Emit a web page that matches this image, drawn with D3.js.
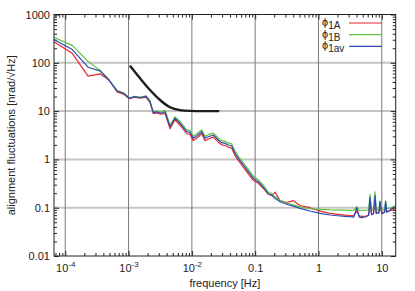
<!DOCTYPE html>
<html>
<head>
<meta charset="utf-8">
<script src="https://cdn.jsdelivr.net/npm/d3@7"></script>
<style>
  body { margin: 0; background: #fff; }
  svg { display: block; font-family: "Liberation Sans", Arial, sans-serif; }
</style>
</head>
<body>
<svg id="chart" width="415" height="291"></svg>
<script>
// frequency bins [Hz], shared by the three spectra
const freq = [
  6.6e-5, 1.29e-4, 2.29e-4, 3.54e-4, 4.9e-4, 6.6e-4, 8.3e-4, 1.03e-3, 1.26e-3, 1.52e-3,
  1.88e-3, 2.18e-3, 2.46e-3, 2.84e-3, 3.22e-3, 3.77e-3, 4.52e-3, 5.42e-3, 6.5e-3, 8.3e-3,
  9.35e-3, 1.05e-2, 1.19e-2, 1.43e-2, 1.61e-2, 1.82e-2, 2.18e-2, 2.62e-2, 2.96e-2, 3.34e-2,
  3.77e-2, 4.26e-2, 4.8e-2, 5.42e-2, 6.5e-2, 7.8e-2, 9.35e-2, 0.112, 0.135, 0.161,
  0.182, 0.206, 0.247, 0.315, 0.4, 0.51, 0.734, 1.06, 1.52, 2.19,
  2.6, 3.15, 3.6, 4.02, 4.4, 4.87, 5.64, 6.2, 6.52, 6.9,
  7.4, 7.82, 8.2, 8.57, 9.0, 9.38, 10.0, 10.5, 11.1, 11.5,
  12.0, 14.0, 15.2, 16.6
]

// phi_1A (red)
const phi1A = [
  274, 157, 53, 59, 44, 25, 22.5, 18, 19.5, 18.5,
  19.5, 15.2, 8.9, 9.2, 8.6, 9.0, 4.3, 6.6, 5.1, 3.4,
  3.3, 2.45, 2.75, 3.4, 2.45, 2.65, 2.9, 2.27, 2.0, 1.94,
  1.8, 1.7, 1.2, 0.95, 0.69, 0.5, 0.37, 0.32, 0.25, 0.19,
  0.18, 0.21, 0.14, 0.128, 0.14, 0.111, 0.1, 0.085, 0.076, 0.072,
  0.07, 0.069, 0.068, 0.085, 0.068, 0.066, 0.067, 0.07, 0.12, 0.074,
  0.076, 0.13, 0.077, 0.078, 0.079, 0.11, 0.078, 0.08, 0.082, 0.11,
  0.083, 0.088, 0.092, 0.095
]

// phi_1B (green)
const phi1B = [
  337, 230, 107, 70, 45, 26.5, 24, 18.8, 20.3, 19.4,
  20.8, 16.2, 9.7, 10, 9.5, 10.4, 5.1, 7.6, 6.1, 4.1,
  4.0, 3.0, 3.35, 4.1, 3.0, 3.25, 3.5, 2.78, 2.45, 2.37,
  2.2, 2.08, 1.48, 1.16, 0.85, 0.62, 0.45, 0.38, 0.29, 0.21,
  0.196, 0.168, 0.14, 0.124, 0.114, 0.104, 0.095, 0.092, 0.09, 0.089,
  0.089, 0.088, 0.088, 0.105, 0.088, 0.088, 0.089, 0.09, 0.19, 0.09,
  0.09, 0.214, 0.09, 0.09, 0.09, 0.135, 0.09, 0.09, 0.092, 0.135,
  0.095, 0.1, 0.105, 0.11
]

// phi_1av (blue)
const phi1av = [
  303, 188, 81, 68, 44, 26, 23.4, 18.4, 19.9, 18.9,
  20.2, 15.7, 9.3, 9.6, 9.0, 9.7, 4.75, 7.1, 5.6, 3.75,
  3.64, 2.73, 3.05, 3.75, 2.73, 2.95, 3.2, 2.52, 2.22, 2.15,
  1.99, 1.89, 1.34, 1.05, 0.766, 0.556, 0.406, 0.345, 0.264, 0.192,
  0.183, 0.157, 0.133, 0.118, 0.108, 0.097, 0.0855, 0.0766, 0.0707, 0.0673,
  0.066, 0.0651, 0.064, 0.1, 0.064, 0.0624, 0.065, 0.07, 0.164, 0.072,
  0.075, 0.177, 0.076, 0.078, 0.078, 0.135, 0.075, 0.078, 0.08, 0.135,
  0.08, 0.0925, 0.1, 0.103
]

// requirement curve (black)
const reqFreq = [1.05e-3, 1.52e-3, 2.18e-3, 3.14e-3, 4.52e-3, 6.5e-3, 9.35e-3, 1.4e-2, 2.0e-2, 2.7e-2]
const reqVal = [87, 47.7, 27.4, 17.0, 12.0, 10.5, 10.1, 10, 10, 10]

const xTicks = [1e-4, 1e-3, 1e-2, 0.1, 1, 10]
const xTickLabels = [['10', '-4'], ['10', '-3'], ['10', '-2'], ['0.1'], ['1'], ['10']]
const yTicks = [0.01, 0.1, 1, 10, 100, 1000]
const yTickLabels = ['0.01', '0.1', '1', '10', '100', '1000']

const series = [
  { sub: '1A', values: phi1A, color: '#e8262f' },
  { sub: '1B', values: phi1B, color: '#5cc43c' },
  { sub: '1av', values: phi1av, color: '#2b4bb4' }
]

const svg = d3.select('#chart')
const mLeft = 54, mRight = 395.7, mTop = 14.5, mBottom = 256

const x = d3.scaleLog().domain([6.64e-5, 16.6]).range([mLeft, mRight])
const y = d3.scaleLog().domain([0.01, 1000]).range([mBottom, mTop])

// minor tick positions for each decade
function minorTicks(lo, hi) {
  const out = []
  for (let e = Math.floor(Math.log10(lo)); e <= Math.ceil(Math.log10(hi)); e++) {
    for (let m = 2; m <= 9; m++) {
      const v = m * Math.pow(10, e)
      if (v > lo && v < hi) out.push(v)
    }
  }
  return out
}

// grid
svg.append('g')
  .selectAll('line')
  .data(yTicks.filter(d => d > 0.01 && d < 1000))
  .join('line')
  .attr('x1', mLeft).attr('x2', mRight)
  .attr('y1', d => y(d)).attr('y2', d => y(d))
  .attr('stroke', '#c4c4c4')
  .attr('stroke-width', 2)

svg.append('g')
  .selectAll('line')
  .data(xTicks)
  .join('line')
  .attr('x1', d => x(d)).attr('x2', d => x(d))
  .attr('y1', mTop).attr('y2', mBottom)
  .attr('stroke', '#7a7a7a')
  .attr('stroke-width', 1)

// inward ticks on all four sides
const xMinor = minorTicks(6.64e-5, 16.6)
const yMinor = minorTicks(0.01, 1000)

function tickAxis(axis, tr) {
  const g = svg.append('g').attr('transform', tr).call(axis)
  g.select('.domain').remove()
  g.selectAll('text').remove()
  g.selectAll('line').attr('stroke', '#222')
}
tickAxis(d3.axisBottom(x).tickValues(xMinor).tickSize(-3), `translate(0,${mBottom})`)
tickAxis(d3.axisTop(x).tickValues(xMinor).tickSize(-3), `translate(0,${mTop})`)
tickAxis(d3.axisBottom(x).tickValues(xTicks).tickSize(-5), `translate(0,${mBottom})`)
tickAxis(d3.axisTop(x).tickValues(xTicks).tickSize(-5), `translate(0,${mTop})`)
tickAxis(d3.axisLeft(y).tickValues(yMinor).tickSize(-3), `translate(${mLeft},0)`)
tickAxis(d3.axisRight(y).tickValues(yMinor).tickSize(-3), `translate(${mRight},0)`)
tickAxis(d3.axisLeft(y).tickValues(yTicks).tickSize(-5), `translate(${mLeft},0)`)
tickAxis(d3.axisRight(y).tickValues(yTicks).tickSize(-5), `translate(${mRight},0)`)

// tick labels
const yLab = svg.append('g')
  .attr('transform', `translate(${mLeft},0)`)
  .call(d3.axisLeft(y).tickValues(yTicks).tickSize(0).tickPadding(4)
    .tickFormat((d, i) => yTickLabels[i]))
yLab.select('.domain').remove()
yLab.selectAll('text').attr('font-size', 11).attr('fill', '#222')
  .attr('font-family', '"Liberation Sans", Arial, sans-serif')

const xLab = svg.append('g')
  .attr('transform', `translate(0,${mBottom})`)
  .call(d3.axisBottom(x).tickValues(xTicks).tickSize(0).tickPadding(8).tickFormat(''))
xLab.select('.domain').remove()
xLab.selectAll('.tick text')
  .attr('font-size', 11).attr('fill', '#222')
  .attr('font-family', '"Liberation Sans", Arial, sans-serif')
  .each(function (d, i) {
    const t = d3.select(this)
    const lab = xTickLabels[i]
    t.append('tspan').text(lab[0])
    if (lab[1]) {
      t.append('tspan').attr('dy', -5).attr('font-size', 8).text(lab[1])
    }
  })

// data lines
const line = d3.line()
  .x((d, i) => x(freq[i]))
  .y(d => y(d))

const plot = svg.append('g')
series.forEach(s => {
  plot.append('path')
    .datum(s.values)
    .attr('d', line)
    .attr('fill', 'none')
    .attr('stroke', s.color)
    .attr('stroke-width', 1.2)
    .attr('stroke-linejoin', 'round')
})

const reqLine = d3.line()
  .x((d, i) => x(reqFreq[i]))
  .y(d => y(d))
  .curve(d3.curveMonotoneX)

plot.append('path')
  .datum(reqVal)
  .attr('d', reqLine)
  .attr('fill', 'none')
  .attr('stroke', '#1e1e1e')
  .attr('stroke-width', 2.4)

// frame
svg.append('rect')
  .attr('x', mLeft).attr('y', mTop)
  .attr('width', mRight - mLeft).attr('height', mBottom - mTop)
  .attr('fill', 'none')
  .attr('stroke', '#222')
  .attr('stroke-width', 1)

// legend
const legend = svg.append('g')
series.forEach((s, i) => {
  const ly = 23 + i * 11.7
  const t = legend.append('text')
    .attr('x', 322).attr('y', ly + 3)
    .attr('font-size', 11).attr('fill', '#222')
  t.append('tspan').text('ϕ')
  t.append('tspan').attr('dy', 3).attr('font-size', 10).text(s.sub)
  legend.append('line')
    .attr('x1', 349).attr('x2', 382)
    .attr('y1', ly).attr('y2', ly)
    .attr('stroke', s.color)
    .attr('stroke-width', 1.2)
})

// axis titles
svg.append('text')
  .attr('x', (mLeft + mRight) / 2).attr('y', 287)
  .attr('text-anchor', 'middle')
  .attr('font-size', 11).attr('fill', '#222')
  .text('frequency [Hz]')

svg.append('text')
  .attr('transform', `translate(15,${(mTop + mBottom) / 2}) rotate(-90)`)
  .attr('text-anchor', 'middle')
  .attr('font-size', 11).attr('fill', '#222')
  .text('alignment fluctuations [nrad/√Hz]')
</script>
</body>
</html>
